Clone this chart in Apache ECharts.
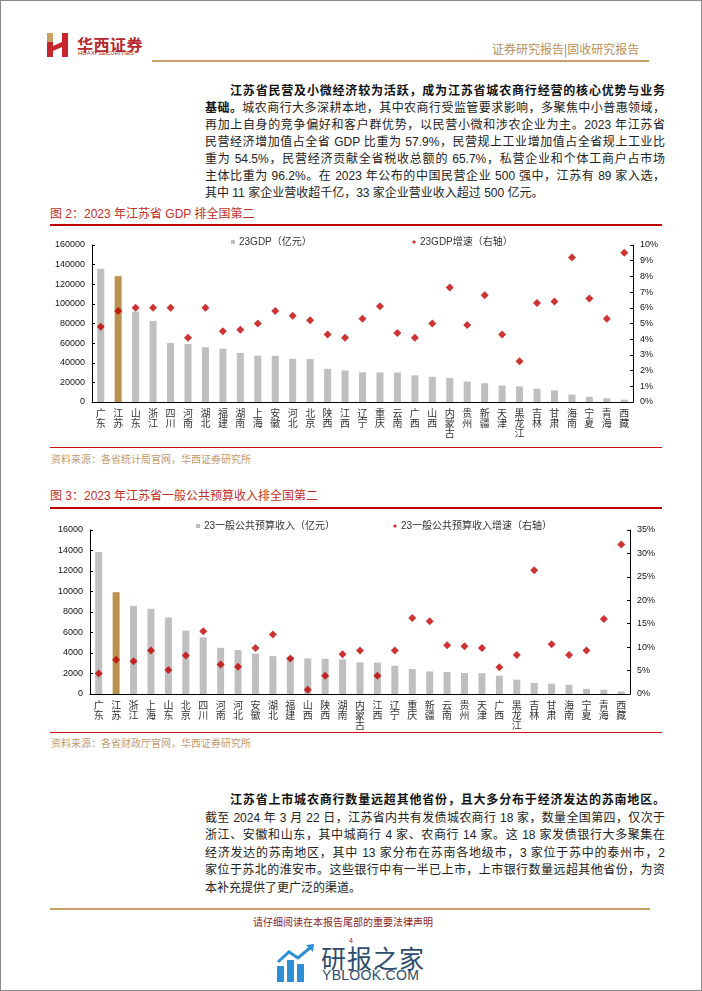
<!DOCTYPE html>
<html><head><meta charset="utf-8">
<script src="https://cdn.jsdelivr.net/npm/echarts@6/dist/echarts.min.js"></script>
<style>
html,body{margin:0;padding:0;background:#fff;}
#page{position:relative;width:702px;height:991px;overflow:hidden;font-family:"Liberation Sans","Noto Sans CJK SC",sans-serif;}
#frame{position:absolute;left:0;top:0;width:700px;height:989px;border:1px solid #8a8a8a;}
#chart{position:absolute;left:0;top:0;width:702px;height:991px;}
.t{position:absolute;white-space:nowrap;}
.ln{position:absolute;left:205px;width:460px;font-size:12px;line-height:17px;height:17px;color:#222;text-align:justify;text-align-last:justify;white-space:nowrap;}
.last{text-align-last:left;}
.ind{left:230px;width:435px;}
b{font-weight:700;color:#111;}
.rule{position:absolute;}
</style></head>
<body><div id="page">
<div id="frame"></div>
<!-- header -->
<svg class="t" style="left:47px;top:33px" width="22" height="24" viewBox="0 0 22 24">
<rect x="0" y="0" width="6" height="9" fill="#c9a063"/>
<rect x="0" y="9" width="6" height="15" fill="#c8242b"/>
<rect x="15" y="0" width="6" height="24" fill="#c8242b"/>
<polygon points="6,13 15,9 15,14 6,18" fill="#c8242b"/>
</svg>
<div class="t" style="left:77px;top:32px;font-size:16px;font-weight:700;color:#b5282e;font-family:'Noto Sans CJK SC';letter-spacing:0.5px">华西证券</div>
<div class="t" style="left:78px;top:50px;font-size:6px;color:#9a2a2a">HUAXI SECURITIES</div>
<div class="rule" style="left:152px;top:60px;width:497px;height:2px;background:#c8a064"></div>
<div class="t" style="left:492px;top:40px;font-size:12px;color:#b8905a;font-family:'Noto Sans CJK SC'">证券研究报告<span style="color:#9a7040">|</span>固收研究报告</div>

<!-- paragraph 1 -->
<div class="ln ind" style="top:83px"><b>江苏省民营及小微经济较为活跃，成为江苏省城农商行经营的核心优势与业务</b></div>
<div class="ln" style="top:100px"><b>基础。</b>城农商行大多深耕本地，其中农商行受监管要求影响，多聚焦中小普惠领域，</div>
<div class="ln" style="top:117px">再加上自身的竞争偏好和客户群优势，以民营小微和涉农企业为主。2023 年江苏省</div>
<div class="ln" style="top:134px">民营经济增加值占全省 GDP 比重为 57.9%，民营规上工业增加值占全省规上工业比</div>
<div class="ln" style="top:151px">重为 54.5%，民营经济贡献全省税收总额的 65.7%，私营企业和个体工商户占市场</div>
<div class="ln" style="top:168px">主体比重为 96.2%。在 2023 年公布的中国民营企业 500 强中，江苏有 89 家入选，</div>
<div class="ln last" style="top:185px">其中 11 家企业营收超千亿，33 家企业营业收入超过 500 亿元。</div>

<!-- figure 2 -->
<div class="t" style="left:50px;top:204px;font-size:12px;color:#c0302a">图 2：2023 年江苏省 GDP 排全国第二</div>
<div class="rule" style="left:50px;top:224px;width:612px;height:2px;background:#c00000"></div>
<div class="rule" style="left:50px;top:447px;width:612px;height:1px;background:#d01010"></div>
<div class="t" style="left:51px;top:451px;font-size:10px;color:#c49a6c">资料来源：各省统计局官网，华西证券研究所</div>

<!-- figure 3 -->
<div class="t" style="left:50px;top:486px;font-size:12px;color:#c0302a">图 3：2023 年江苏省一般公共预算收入排全国第二</div>
<div class="rule" style="left:50px;top:507px;width:612px;height:2px;background:#c00000"></div>
<div class="rule" style="left:50px;top:732px;width:612px;height:1px;background:#d01010"></div>
<div class="t" style="left:51px;top:735px;font-size:10px;color:#c49a6c">资料来源：各省财政厅官网，华西证券研究所</div>

<!-- paragraph 2 -->
<div class="ln ind" style="top:792px"><b>江苏省上市城农商行数量远超其他省份，且大多分布于经济发达的苏南地区。</b></div>
<div class="ln" style="top:810px">截至 2024 年 3 月 22 日，江苏省内共有发债城农商行 18 家，数量全国第四，仅次于</div>
<div class="ln" style="top:827px">浙江、安徽和山东，其中城商行 4 家、农商行 14 家。这 18 家发债银行大多聚集在</div>
<div class="ln" style="top:845px">经济发达的苏南地区，其中 13 家分布在苏南各地级市，3 家位于苏中的泰州市，2</div>
<div class="ln" style="top:862px">家位于苏北的淮安市。这些银行中有一半已上市，上市银行数量远超其他省份，为资</div>
<div class="ln last" style="top:880px">本补充提供了更广泛的渠道。</div>

<!-- footer -->
<div class="rule" style="left:50px;top:908px;width:600px;height:2px;background:#c8a064"></div>
<div class="t" style="left:253px;top:914px;font-size:10px;color:#8b2323;font-family:'Noto Sans CJK SC'">请仔细阅读在本报告尾部的重要法律声明</div>
<div class="t" style="left:349px;top:937px;font-size:7px;color:#c00000">4</div>
<svg class="t" style="left:276px;top:944px" width="40" height="38" viewBox="0 0 40 38">
<rect x="1" y="22" width="7" height="16" fill="#2e8fd6"/>
<rect x="11" y="16" width="7" height="22" fill="#2e8fd6"/>
<rect x="21" y="20" width="7" height="18" fill="#2e8fd6"/>
<polyline points="2,18 13,8 22,14 35,3" fill="none" stroke="#2e8fd6" stroke-width="3"/>
<polygon points="30,1 38,0 37,8" fill="#2e8fd6"/>
</svg>
<div class="t" style="left:321px;top:939px;font-size:25px;color:#2d4d6d;font-family:'Noto Sans CJK SC';letter-spacing:1px">研报之家</div>
<div class="t" style="left:322px;top:967px;font-size:14px;color:#2d4d6d;letter-spacing:0.3px">YBLOOK.COM</div>

<div id="chart"></div>
</div>
<script>
// ---- Figure 2 data ----
const cats1 = ['广东','江苏','山东','浙江','四川','河南','湖北','福建','湖南','上海','安徽','河北','北京','陕西','江西','辽宁','重庆','云南','广西','山西','内蒙古','贵州','新疆','天津','黑龙江','吉林','甘肃','海南','宁夏','青海','西藏'];
const gdp23 = [135673,128222,92069,82553,60133,59132,55803,54355,50013,47219,47051,43944,43761,33786,32200,30209,30146,30021,27202,25698,24627,20913,19126,16737,15884,13531,11864,7551,5315,3799,2393];
const gdpGrowth23 = [4.8,5.8,6.0,6.0,6.0,4.1,6.0,4.5,4.6,5.0,5.8,5.5,5.2,4.3,4.1,5.3,6.1,4.4,4.1,5.0,7.3,4.9,6.8,4.3,2.6,6.3,6.4,9.2,6.6,5.3,9.5];
const leftTicks1 = [0,160000,20000];   // min, max, interval
const rightTicks1 = [0,10,1];

// ---- Figure 3 data ----
const cats2 = ['广东','江苏','浙江','上海','山东','北京','四川','河南','河北','安徽','湖北','福建','山西','陕西','湖南','内蒙古','江西','辽宁','重庆','新疆','云南','贵州','天津','广西','黑龙江','吉林','甘肃','海南','宁夏','青海','西藏'];
const revenue23 = [13851,9930,8600,8313,7465,6181,5529,4512,4286,3939,3692,3591,3479,3437,3361,3083,3060,2755,2441,2202,2149,2045,2027,1784,1396,1075,1003,900,503,420,250];
const revGrowth23 = [4.4,7.3,7.0,9.3,5.1,8.2,13.4,6.3,5.8,9.8,12.7,7.6,0.9,3.9,8.5,9.3,3.9,9.3,16.2,15.5,10.4,10.2,9.8,5.7,8.3,26.4,10.6,8.3,9.3,16.0,31.9];
const leftTicks2 = [0,16000,2000];
const rightTicks2 = [0,35,5];

const highlight = '江苏';
const GRAY = '#bfbfbf', GOLD = '#b8914f', RED = '#c00000';
const FONT = '"Liberation Sans","Noto Sans CJK SC",sans-serif';

function valAxis(gi, t, pos, pct){
  return {type:'value', gridIndex:gi, position:pos, min:t[0], max:t[1], interval:t[2],
    axisLine:{show:true, lineStyle:{color:'#000', width:1}},
    axisTick:{show:true, inside:true, length:3, lineStyle:{color:'#000'}},
    splitLine:{show:false},
    axisLabel:{fontSize:9, color:'#111', fontFamily:FONT, margin:7,
      formatter: pct ? (v => v + '%') : (v => String(v))}};
}
function catAxis(gi, cats){
  return {type:'category', gridIndex:gi, data:cats,
    axisLine:{lineStyle:{color:'#000', width:1}}, axisTick:{show:false},
    axisLabel:{interval:0, fontSize:10, lineHeight:10, color:'#333', margin:6,
      fontFamily:'"Noto Sans CJK SC",sans-serif', formatter: v => v.split('').join('\n')}};
}
function barData(cats, vals){
  return vals.map((v,i) => ({value:v, itemStyle:{color: cats[i]===highlight ? GOLD : GRAY}}));
}
function legend(name, left, top, icon){
  return {data:[name], left:left, top:top, icon:icon, itemWidth:4, itemHeight:4, itemGap:0,
    textStyle:{fontSize:10, color:'#333', fontFamily:FONT, padding:[0,0,0,-1]}};
}

const chart = echarts.init(document.getElementById('chart'), null, {renderer:'canvas'});
chart.setOption({
  animation:false,
  grid:[
    {left:92, top:245, width:541, height:157},
    {left:90, top:530, width:540, height:164}
  ],
  xAxis:[catAxis(0,cats1), catAxis(1,cats2)],
  yAxis:[valAxis(0,leftTicks1,'left',false), valAxis(0,rightTicks1,'right',true),
         valAxis(1,leftTicks2,'left',false), valAxis(1,rightTicks2,'right',true)],
  legend:[
    legend('23GDP（亿元）', 226, 232, 'rect'),
    legend('23GDP增速（右轴）', 407, 232, 'diamond'),
    legend('23一般公共预算收入（亿元）', 191, 516, 'rect'),
    legend('23一般公共预算收入增速（右轴）', 388, 516, 'diamond')
  ],
  series:[
    {name:'23GDP（亿元）', type:'bar', xAxisIndex:0, yAxisIndex:0, barWidth:7,
     itemStyle:{color:GRAY}, data:barData(cats1,gdp23)},
    {name:'23GDP增速（右轴）', type:'scatter', xAxisIndex:0, yAxisIndex:1, symbol:'diamond', symbolSize:8,
     itemStyle:{color:RED}, data:gdpGrowth23},
    {name:'23一般公共预算收入（亿元）', type:'bar', xAxisIndex:1, yAxisIndex:2, barWidth:7,
     itemStyle:{color:GRAY}, data:barData(cats2,revenue23)},
    {name:'23一般公共预算收入增速（右轴）', type:'scatter', xAxisIndex:1, yAxisIndex:3, symbol:'diamond', symbolSize:8,
     itemStyle:{color:RED}, data:revGrowth23}
  ]
});
</script>
</body></html>
